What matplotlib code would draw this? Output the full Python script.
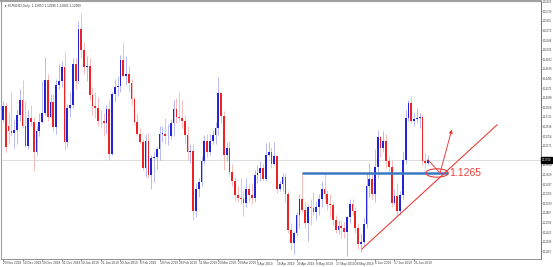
import numpy as np
import pandas as pd
import matplotlib
matplotlib.use('Agg')
import matplotlib.pyplot as plt
from matplotlib.patches import Ellipse

# EURUSD daily bars, 29 Nov 2018 - 3 Jul 2019 (no bars on 25 Dec / 1 Jan)
dates = [d for d in pd.bdate_range('2018-11-29', '2019-07-03')
         if d.strftime('%m-%d') not in ('12-25', '01-01')]

opens = [
    1.1367, 1.1393, 1.1355, 1.1345, 1.1342, 1.1347, 1.1375, 1.1405, 1.1355, 1.1317,
    1.1370, 1.1362, 1.1306, 1.1345, 1.1362, 1.1380, 1.1442, 1.1372, 1.1400, 1.1352,
    1.1433, 1.1440, 1.1467, 1.1325, 1.1390, 1.1395, 1.1474, 1.1440, 1.1540, 1.1500,
    1.1468, 1.1470, 1.1413, 1.1393, 1.1389, 1.1365, 1.1364, 1.1360, 1.1387, 1.1302,
    1.1415, 1.1430, 1.1432, 1.1480, 1.1450, 1.1455, 1.1437, 1.1406, 1.1362, 1.1340,
    1.1325, 1.1275, 1.1327, 1.1262, 1.1293, 1.1295, 1.1310, 1.1340, 1.1340, 1.1335,
    1.1336, 1.1360, 1.1388, 1.1372, 1.1370, 1.1364, 1.1338, 1.1305, 1.1307, 1.1193,
    1.1234, 1.1247, 1.1288, 1.1327, 1.1305, 1.1327, 1.1338, 1.1351, 1.1418, 1.1374,
    1.1300, 1.1312, 1.1267, 1.1249, 1.1222, 1.1217, 1.1215, 1.1208, 1.1234, 1.1222,
    1.1217, 1.1262, 1.1265, 1.1275, 1.1253, 1.1300, 1.1306, 1.1283, 1.1297, 1.1235,
    1.1244, 1.1257, 1.1224, 1.1156, 1.1131, 1.1150, 1.1185, 1.1215, 1.1194, 1.1170,
    1.1200, 1.1198, 1.1190, 1.1200, 1.1215, 1.1235, 1.1225, 1.1205, 1.1203, 1.1175,
    1.1157, 1.1163, 1.1160, 1.1152, 1.1180, 1.1205, 1.1193, 1.1160, 1.1130, 1.1133,
    1.1167, 1.1240, 1.1254, 1.1224, 1.1276, 1.1333, 1.1313, 1.1326, 1.1288, 1.1276,
    1.1208, 1.1221, 1.1193, 1.1222, 1.1290, 1.1370, 1.1398, 1.1365, 1.1368, 1.1370,
    1.1372, 1.1287, 1.1285]
highs = [
    1.1402, 1.1400, 1.1382, 1.1420, 1.1368, 1.1385, 1.1425, 1.1443, 1.1402, 1.1385,
    1.1395, 1.1372, 1.1355, 1.1380, 1.1440, 1.1486, 1.1455, 1.1415, 1.1415, 1.1445,
    1.1473, 1.1478, 1.1497, 1.1397, 1.1420, 1.1484, 1.1485, 1.1555, 1.1570, 1.1515,
    1.1488, 1.1485, 1.1430, 1.1420, 1.1410, 1.1385, 1.1380, 1.1395, 1.1405, 1.1420,
    1.1445, 1.1450, 1.1490, 1.1514, 1.1488, 1.1470, 1.1445, 1.1410, 1.1380, 1.1350,
    1.1330, 1.1340, 1.1342, 1.1300, 1.1305, 1.1315, 1.1355, 1.1355, 1.1370, 1.1358,
    1.1368, 1.1404, 1.1408, 1.1420, 1.1405, 1.1375, 1.1355, 1.1320, 1.1320, 1.1245,
    1.1255, 1.1297, 1.1338, 1.1339, 1.1340, 1.1348, 1.1362, 1.1448, 1.1420, 1.1383,
    1.1325, 1.1326, 1.1282, 1.1258, 1.1240, 1.1255, 1.1230, 1.1255, 1.1246, 1.1245,
    1.1270, 1.1280, 1.1288, 1.1285, 1.1323, 1.1325, 1.1314, 1.1324, 1.1300, 1.1250,
    1.1265, 1.1265, 1.1230, 1.1170, 1.1155, 1.1190, 1.1225, 1.1265, 1.1210, 1.1205,
    1.1215, 1.1228, 1.1212, 1.1225, 1.1250, 1.1264, 1.1232, 1.1225, 1.1210, 1.1185,
    1.1175, 1.1175, 1.1172, 1.1182, 1.1215, 1.1215, 1.1200, 1.1170, 1.1150, 1.1180,
    1.1265, 1.1285, 1.1265, 1.1310, 1.1348, 1.1335, 1.1345, 1.1340, 1.1298, 1.1290,
    1.1235, 1.1245, 1.1230, 1.1305, 1.1385, 1.1404, 1.1412, 1.1380, 1.1390, 1.1380,
    1.1375, 1.1305, 1.1300]
lows = [
    1.1362, 1.1305, 1.1322, 1.1335, 1.1312, 1.1320, 1.1365, 1.1350, 1.1315, 1.1310,
    1.1355, 1.1269, 1.1300, 1.1335, 1.1360, 1.1375, 1.1365, 1.1370, 1.1345, 1.1340,
    1.1425, 1.1430, 1.1309, 1.1315, 1.1372, 1.1390, 1.1425, 1.1437, 1.1485, 1.1455,
    1.1440, 1.1405, 1.1375, 1.1370, 1.1355, 1.1350, 1.1335, 1.1340, 1.1290, 1.1300,
    1.1400, 1.1412, 1.1420, 1.1450, 1.1434, 1.1420, 1.1395, 1.1357, 1.1338, 1.1320,
    1.1270, 1.1258, 1.1255, 1.1234, 1.1248, 1.1272, 1.1290, 1.1325, 1.1320, 1.1318,
    1.1330, 1.1335, 1.1360, 1.1365, 1.1350, 1.1323, 1.1290, 1.1285, 1.1176, 1.1180,
    1.1220, 1.1240, 1.1282, 1.1295, 1.1300, 1.1320, 1.1320, 1.1338, 1.1360, 1.1270,
    1.1288, 1.1262, 1.1240, 1.1212, 1.1210, 1.1205, 1.1183, 1.1200, 1.1210, 1.1206,
    1.1210, 1.1245, 1.1250, 1.1250, 1.1250, 1.1298, 1.1275, 1.1280, 1.1226, 1.1230,
    1.1230, 1.1210, 1.1150, 1.1118, 1.1111, 1.1145, 1.1160, 1.1190, 1.1160, 1.1135,
    1.1165, 1.1185, 1.1175, 1.1185, 1.1200, 1.1215, 1.1195, 1.1180, 1.1165, 1.1150,
    1.1148, 1.1140, 1.1140, 1.1106, 1.1170, 1.1185, 1.1150, 1.1120, 1.1115, 1.1125,
    1.1160, 1.1220, 1.1215, 1.1210, 1.1255, 1.1295, 1.1305, 1.1275, 1.1265, 1.1200,
    1.1203, 1.1181, 1.1185, 1.1215, 1.1282, 1.1365, 1.1360, 1.1355, 1.1360, 1.1350,
    1.1280, 1.1275, 1.1280]
closes = [
    1.1393, 1.1315, 1.1345, 1.1342, 1.1347, 1.1375, 1.1405, 1.1355, 1.1317, 1.1370,
    1.1362, 1.1306, 1.1345, 1.1362, 1.1380, 1.1442, 1.1372, 1.1400, 1.1352, 1.1433,
    1.1440, 1.1467, 1.1325, 1.1390, 1.1395, 1.1474, 1.1440, 1.1540, 1.1500, 1.1468,
    1.1470, 1.1413, 1.1393, 1.1389, 1.1365, 1.1364, 1.1360, 1.1387, 1.1302, 1.1415,
    1.1430, 1.1432, 1.1480, 1.1450, 1.1455, 1.1437, 1.1406, 1.1362, 1.1340, 1.1325,
    1.1275, 1.1327, 1.1262, 1.1293, 1.1295, 1.1310, 1.1340, 1.1340, 1.1335, 1.1336,
    1.1360, 1.1388, 1.1372, 1.1370, 1.1364, 1.1338, 1.1305, 1.1307, 1.1193, 1.1234,
    1.1247, 1.1288, 1.1327, 1.1305, 1.1327, 1.1338, 1.1351, 1.1418, 1.1374, 1.1300,
    1.1312, 1.1267, 1.1249, 1.1222, 1.1217, 1.1215, 1.1208, 1.1234, 1.1222, 1.1217,
    1.1262, 1.1265, 1.1275, 1.1253, 1.1300, 1.1306, 1.1283, 1.1297, 1.1235, 1.1244,
    1.1257, 1.1224, 1.1156, 1.1131, 1.1150, 1.1185, 1.1215, 1.1194, 1.1170, 1.1200,
    1.1198, 1.1190, 1.1200, 1.1215, 1.1235, 1.1225, 1.1205, 1.1203, 1.1175, 1.1157,
    1.1163, 1.1160, 1.1152, 1.1180, 1.1205, 1.1193, 1.1160, 1.1130, 1.1133, 1.1167,
    1.1240, 1.1254, 1.1224, 1.1276, 1.1333, 1.1313, 1.1326, 1.1288, 1.1276, 1.1208,
    1.1221, 1.1193, 1.1222, 1.1290, 1.1370, 1.1398, 1.1365, 1.1368, 1.1370, 1.1372,
    1.1287, 1.1285, 1.1290]

# price scale labels on the right (MT4 style, uneven step)
price_ticks = [1.15922, 1.15739, 1.15555, 1.15372, 1.15188, 1.15005, 1.14822,
               1.14638, 1.14455, 1.14271, 1.14088, 1.13904, 1.13721, 1.13538,
               1.13354, 1.13171, 1.12804, 1.12620, 1.12437, 1.12253, 1.12070,
               1.11887, 1.11703, 1.11520, 1.11336, 1.11153]

# drawn objects: support level, trend line, arrow
support_level = 1.1265
support_start = 107          # 1 May 2019 high
trend_x = [128.4, 176.7]
trend_y = [1.1120, 1.1357]
arrow_x = [152, 156.3, 160.5]
arrow_y = [1.1290, 1.1265, 1.1348]

bull = '#2323d8'
bear = '#ee2222'
bull_wick = '#9d9df0'
bear_wick = '#f4a3a3'
mark_red = '#e8413c'
small = dict(fontsize=2.3, family='Liberation Sans')
tiny = dict(fontsize=1.9, family='Liberation Sans')

fig = plt.figure(figsize=(5.53, 2.67), dpi=100)
ax = fig.add_axes([1 / 553, 8 / 267, 540 / 553, 258 / 267])

o = np.array(opens)
h = np.array(highs)
l = np.array(lows)
c = np.array(closes)
x = np.arange(len(c))
up = c >= o

ax.vlines(x[up], l[up], h[up], color=bull_wick, lw=0.5, zorder=2)
ax.vlines(x[~up], l[~up], h[~up], color=bear_wick, lw=0.5, zorder=2)
body = np.maximum(np.abs(c - o), 0.00008)
ax.bar(x[up], body[up], bottom=np.minimum(o, c)[up], width=0.62, color=bull, lw=0, zorder=3)
ax.bar(x[~up], body[~up], bottom=np.minimum(o, c)[~up], width=0.62, color=bear, lw=0, zorder=3)

# current price line
ax.axhline(c[-1], color='#d0d0d0', lw=0.5, zorder=1)

# support line + label
ax.hlines(support_level, support_start, 159, color='#3a78c2', lw=1.8, zorder=4)
ax.add_patch(Ellipse((155.2, support_level), 8, 0.0016, fill=False,
                     edgecolor=mark_red, lw=0.8, zorder=5))
ax.text(159.6, support_level, '1.1265', color=mark_red, fontsize=7.5,
        family='Liberation Sans', va='center', ha='left', zorder=5)

# trend line and arrow
ax.plot(trend_x, trend_y, color=mark_red, lw=0.8, zorder=4)
ax.plot(arrow_x[:2], arrow_y[:2], color=mark_red, lw=0.7, zorder=5)
ax.annotate('', xy=(arrow_x[2], arrow_y[2]), xytext=(arrow_x[1], arrow_y[1]),
            arrowprops=dict(arrowstyle='-|>', color=mark_red, lw=0.7,
                            mutation_scale=5, shrinkA=0, shrinkB=0), zorder=5)

ax.set_xlim(-0.715, 192.4)
ax.set_ylim(1.11007, 1.15935)

# right price axis
ax.yaxis.tick_right()
ax.set_yticks(price_ticks)
ax.set_yticklabels([f'{p:.5f}' for p in price_ticks], **tiny)
ax.tick_params(axis='y', length=1.0, width=0.4, pad=0.3, colors='#404040')

# date axis, one label every 7 bars
date_pos = list(range(0, len(dates), 7))
ax.set_xticks(date_pos)
ax.set_xticklabels([f'{dates[i].day} {dates[i]:%b %Y}' for i in date_pos],
                   ha='left', **small)
ax.tick_params(axis='x', length=1.2, width=0.4, pad=0.6, colors='#404040')

# current price tag
ax.annotate(f'{c[-1]:.5f}', xy=(1.0, c[-1]), xycoords=('axes fraction', 'data'),
            xytext=(0.8, 0), textcoords='offset points', color='white',
            va='center', ha='left', annotation_clip=False,
            bbox=dict(boxstyle='square,pad=0.25', fc='black', ec='black'), **tiny)

for side in ['top', 'left']:
    ax.spines[side].set_color('#a0a0a0')
ax.spines['top'].set_linewidth(1.5)
ax.spines['left'].set_linewidth(0.8)
ax.spines['bottom'].set_color('#808080')
ax.spines['bottom'].set_linewidth(0.6)
ax.spines['right'].set_color('#606060')
ax.spines['right'].set_linewidth(0.6)

fig.text(4 / 553, 1 - 6 / 267,
         '\u25bc EURUSD,Daily  1.12850 1.12996 1.12802 1.12900',
         fontsize=2.3, family=['Liberation Sans', 'DejaVu Sans'],
         color='#404040', va='center', ha='left')

fig.savefig('out.png', dpi=100, facecolor='white')
